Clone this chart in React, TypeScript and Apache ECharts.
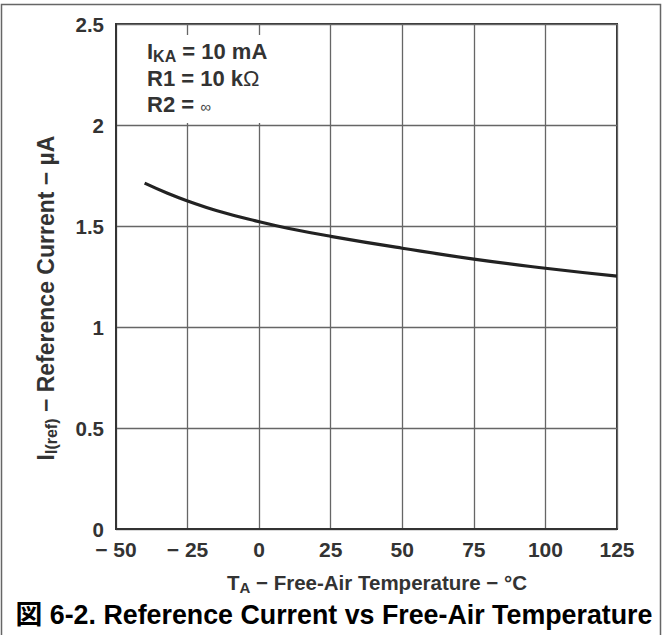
import React, { useEffect, useRef } from "react";
import * as echarts from "echarts";

const temperatures = [-40, -32, -25, -15, 0, 10, 25, 50, 75, 100, 125];
const refCurrent = [1.712, 1.662, 1.624, 1.577, 1.521, 1.489, 1.449, 1.39, 1.336, 1.291, 1.252];
const xTicks = [-50, -25, 0, 25, 50, 75, 100, 125];
const yTicks = [0, 0.5, 1, 1.5, 2, 2.5];

const FONT = '"Liberation Sans", Arial, "Noto Sans CJK JP", sans-serif';

export default function App() {
  const ref = useRef<HTMLDivElement>(null);
  useEffect(() => {
    document.body.style.margin = "0";
    if (!ref.current) return;
    const chart = echarts.init(ref.current, undefined, { renderer: "svg" });
    const option = {
      animation: false,
      backgroundColor: "#fff",
      grid: {
        left: 116,
        top: 24,
        right: 49,
        bottom: 106,
        show: true,
        borderColor: "#333",
        borderWidth: 2,
        backgroundColor: "transparent",
      },
      xAxis: {
        type: "value",
        min: xTicks[0],
        max: xTicks[xTicks.length - 1],
        interval: 25,
        axisLine: { show: true, onZero: false, lineStyle: { color: "#333", width: 2 } },
        axisTick: { show: false },
        splitLine: { show: true, lineStyle: { color: "#666", width: 1.3 } },
        axisLabel: {
          margin: 12,
          lineHeight: 16,
          color: "#333",
          fontFamily: FONT,
          fontWeight: "bold",
          fontSize: 21,
          formatter: (v: number) => (v < 0 ? "\u2212 " + Math.abs(v) : String(v)),
        },
      },
      yAxis: {
        type: "value",
        min: yTicks[0],
        max: yTicks[yTicks.length - 1],
        interval: 0.5,
        axisLine: { show: true, onZero: false, lineStyle: { color: "#333", width: 2 } },
        axisTick: { show: false },
        splitLine: { show: true, lineStyle: { color: "#666", width: 1.3 } },
        axisLabel: {
          margin: 12,
          lineHeight: 16,
          color: "#333",
          fontFamily: FONT,
          fontWeight: "bold",
          fontSize: 20.5,
          formatter: (v: number) => String(v),
        },
      },
      series: [
        {
          type: "line",
          data: temperatures.map((t, i) => [t, refCurrent[i]]),
          smooth: true,
          showSymbol: false,
          symbol: "none",
          lineStyle: { color: "#222", width: 3.2 },
          z: 5,
        },
      ],
      graphic: [
        {
          type: "rect",
          z: 1,
          shape: { x: 118, y: 35, width: 155, height: 88 },
          style: { fill: "#fff" },
        },
        {
          type: "text",
          z: 3,
          x: 147,
          y: 51,
          style: {
            text: "{m|I}{s|KA}{m| = 10 mA}",
            verticalAlign: "middle",
            rich: {
              m: { fontFamily: FONT, fontWeight: "bold", fontSize: 22, fill: "#333", lineHeight: 22 },
              s: { fontFamily: FONT, fontWeight: "bold", fontSize: 16, fill: "#333", lineHeight: 16, padding: [10, 0, 0, 0] },
            },
          },
        },
        {
          type: "text",
          z: 3,
          x: 147,
          y: 78,
          style: {
            text: "{m|R1 = 10 k}{o|\u03A9}",
            verticalAlign: "middle",
            rich: {
              m: { fontFamily: FONT, fontWeight: "bold", fontSize: 22, fill: "#333" },
              o: { fontFamily: FONT, fontWeight: "normal", fontSize: 22, fill: "#333" },
            },
          },
        },
        {
          type: "text",
          z: 3,
          x: 147,
          y: 104,
          style: {
            text: "{m|R2 = }{o|\u221E}",
            verticalAlign: "middle",
            rich: {
              m: { fontFamily: FONT, fontWeight: "bold", fontSize: 22, fill: "#333" },
              o: { fontFamily: FONT, fontWeight: "normal", fontSize: 15, fill: "#444", padding: [4, 0, 0, 0] },
            },
          },
        },
        {
          type: "text",
          z: 3,
          x: 46,
          y: 298,
          rotation: Math.PI / 2,
          style: {
            text: "{m|I}{s|I(ref)}{m| \u2212 Reference Current \u2212 \u00B5A}",
            align: "center",
            verticalAlign: "middle",
            rich: {
              m: { fontFamily: FONT, fontWeight: "bold", fontSize: 23, fill: "#333", lineHeight: 23 },
              s: { fontFamily: FONT, fontWeight: "bold", fontSize: 16, fill: "#333", lineHeight: 16, padding: [10, 0, 0, 0] },
            },
          },
        },
        {
          type: "text",
          z: 3,
          x: 377,
          y: 582,
          style: {
            text: "{m|T}{s|A}{m| \u2212 Free-Air Temperature \u2212 \u00B0C}",
            align: "center",
            verticalAlign: "middle",
            rich: {
              m: { fontFamily: FONT, fontWeight: "bold", fontSize: 20.5, fill: "#333", lineHeight: 21 },
              s: { fontFamily: FONT, fontWeight: "bold", fontSize: 15, fill: "#333", lineHeight: 15, padding: [10, 0, 0, 0] },
            },
          },
        },
        {
          type: "text",
          z: 3,
          x: 334,
          y: 615,
          style: {
            text: "\u56F3 6-2. Reference Current vs Free-Air Temperature",
            align: "center",
            verticalAlign: "middle",
            fontFamily: FONT,
            fontWeight: "bold",
            fontSize: 26.8,
            fill: "#000",
          },
        },
        {
          type: "rect",
          z: 0,
          shape: { x: 1.5, y: 4.5, width: 659, height: 640 },
          style: { fill: "none", stroke: "#666", lineWidth: 1.5 },
        },
      ],
    };
    chart.setOption(option as any);
    return () => chart.dispose();
  }, []);
  return (
    <div
      ref={ref}
      style={{ position: "absolute", left: 0, top: 0, width: 666, height: 635 }}
    />
  );
}
